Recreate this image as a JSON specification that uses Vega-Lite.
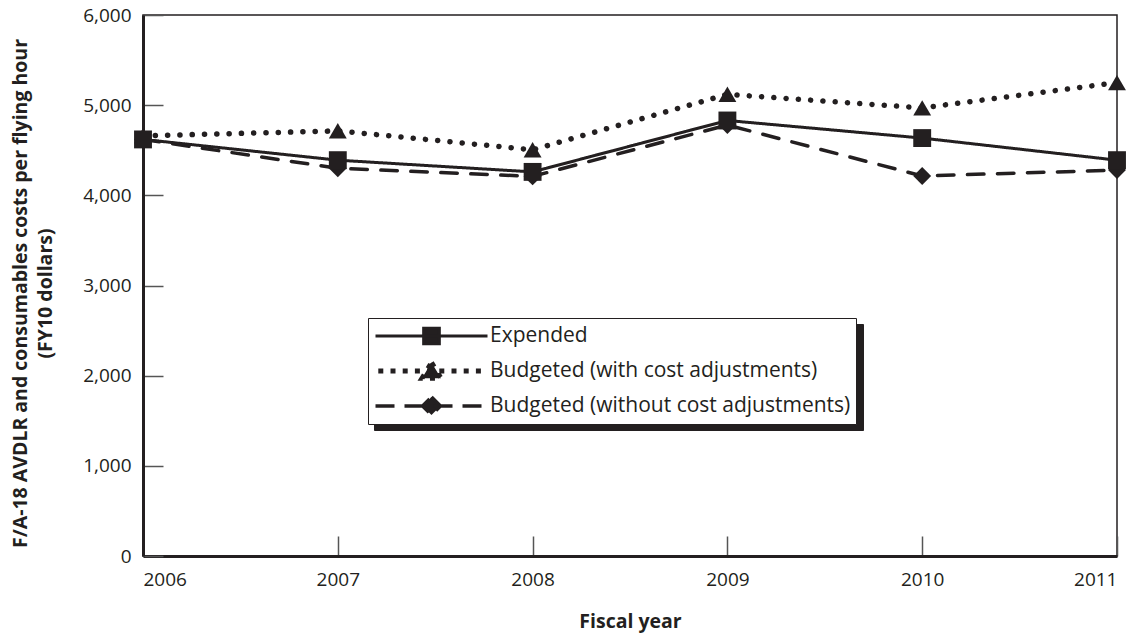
{
  "$schema": "https://vega.github.io/schema/vega-lite/v6.json",
  "width": 974,
  "height": 541,
  "autosize": {"type": "none"},
  "padding": {"left": 143, "top": 15, "right": 29, "bottom": 79},
  "background": "white",
  "config": {
    "font": "Open Sans",
    "view": {"stroke": "#231f20", "strokeWidth": 1.5},
    "axis": {
      "grid": false,
      "domainColor": "#231f20",
      "domainWidth": 3,
      "tickColor": "#555555",
      "tickWidth": 1.5,
      "tickSize": -20,
      "labelFont": "Open Sans",
      "labelFontSize": 19,
      "labelColor": "#231f20",
      "titleFont": "Open Sans",
      "titleFontWeight": "bold",
      "titleColor": "#231f20"
    }
  },
  "data": {
    "values": [
      {"year": 2006, "series": "Budgeted (without cost adjustments)", "cost": 4620},
      {"year": 2007, "series": "Budgeted (without cost adjustments)", "cost": 4300},
      {"year": 2008, "series": "Budgeted (without cost adjustments)", "cost": 4210},
      {"year": 2009, "series": "Budgeted (without cost adjustments)", "cost": 4780},
      {"year": 2010, "series": "Budgeted (without cost adjustments)", "cost": 4215},
      {"year": 2011, "series": "Budgeted (without cost adjustments)", "cost": 4280},
      {"year": 2006, "series": "Budgeted (with cost adjustments)", "cost": 4660},
      {"year": 2007, "series": "Budgeted (with cost adjustments)", "cost": 4715},
      {"year": 2008, "series": "Budgeted (with cost adjustments)", "cost": 4505},
      {"year": 2009, "series": "Budgeted (with cost adjustments)", "cost": 5120},
      {"year": 2010, "series": "Budgeted (with cost adjustments)", "cost": 4970},
      {"year": 2011, "series": "Budgeted (with cost adjustments)", "cost": 5250},
      {"year": 2006, "series": "Expended", "cost": 4620},
      {"year": 2007, "series": "Expended", "cost": 4390},
      {"year": 2008, "series": "Expended", "cost": 4260},
      {"year": 2009, "series": "Expended", "cost": 4830},
      {"year": 2010, "series": "Expended", "cost": 4635},
      {"year": 2011, "series": "Expended", "cost": 4390}
    ]
  },
  "encoding": {
    "x": {
      "field": "year",
      "type": "quantitative",
      "scale": {"domain": [2006, 2011], "nice": false, "zero": false},
      "axis": {
        "values": [2006, 2007, 2008, 2009, 2010, 2011],
        "format": "d",
        "title": "Fiscal year",
        "labelPadding": 34,
        "titleFontSize": 19.5,
        "titleX": 487,
        "titleY": 65,
        "titleBaseline": "middle"
      }
    },
    "y": {
      "field": "cost",
      "type": "quantitative",
      "scale": {"domain": [0, 6000], "nice": false},
      "axis": {
        "values": [0, 1000, 2000, 3000, 4000, 5000, 6000],
        "format": ",.0f",
        "title": ["F/A-18 AVDLR and consumables costs per flying hour", "(FY10 dollars)"],
        "labelPadding": 32,
        "titleFontSize": 19.5,
        "titleLineHeight": 25,
        "titleX": -123,
        "titleY": 278,
        "titleBaseline": "middle",
        "titleAlign": "center"
      }
    }
  },
  "layer": [
    {
      "mark": {"type": "line", "strokeCap": "round", "color": "#231f20"},
      "encoding": {
        "strokeDash": {
          "field": "series",
          "type": "nominal",
          "scale": {
            "domain": ["Expended", "Budgeted (with cost adjustments)", "Budgeted (without cost adjustments)"],
            "range": [[1, 0], [0.1, 12.2], [16.5, 13.5]]
          },
          "legend": null
        },
        "strokeWidth": {
          "field": "series",
          "type": "nominal",
          "scale": {
            "type": "ordinal",
            "domain": ["Expended", "Budgeted (with cost adjustments)", "Budgeted (without cost adjustments)"],
            "range": [3, 5.5, 3.5]
          },
          "legend": null
        }
      }
    },
    {
      "mark": {"type": "point", "filled": true, "opacity": 1, "color": "#231f20", "size": 320},
      "encoding": {
        "shape": {
          "field": "series",
          "type": "nominal",
          "sort": ["Expended", "Budgeted (with cost adjustments)", "Budgeted (without cost adjustments)"],
          "scale": {"range": ["square", "triangle-up", "diamond"]},
          "legend": {
            "orient": "none",
            "legendX": 231,
            "legendY": 309,
            "zindex": 0,
            "title": null,
            "fillColor": "#231f20",
            "strokeColor": "#231f20",
            "padding": 5,
            "clipHeight": 26,
            "rowPadding": 9,
            "symbolSize": 12544,
            "symbolStrokeWidth": 5.5,
            "symbolOpacity": 0,
            "labelOpacity": 0,
            "labelFont": "Open Sans",
            "labelFontSize": 21,
            "labelOffset": 0,
            "labelLimit": 0
          }
        }
      }
    },
    {
      "mark": {"type": "point", "filled": true, "opacity": 0, "size": 10},
      "encoding": {
        "shape": {
          "field": "series",
          "type": "nominal",
          "scale": {
            "domain": ["Expended", "Budgeted (with cost adjustments)", "Budgeted (without cost adjustments)"],
            "range": ["M-1,0H1M-0.14,-0.14H0.14V0.14H-0.14Z", "M-0.95,0H0.95M0,-0.15L0.17,0.13H-0.17Z", "M-1,0H1M0,-0.16L0.16,0L0,0.16L-0.16,0Z"]
          },
          "legend": {
            "orient": "none",
            "legendX": 225,
            "legendY": 303,
            "zindex": 1,
            "title": null,
            "fillColor": "white",
            "strokeColor": "#231f20",
            "padding": 5,
            "clipHeight": 26,
            "rowPadding": 9,
            "symbolSize": 12544,
            "symbolOpacity": 1,
            "labelFont": "Open Sans",
            "labelFontSize": 21,
            "labelColor": "#231f20",
            "labelOffset": 0,
            "labelLimit": 0
          }
        },
        "fill": {
          "field": "series",
          "type": "nominal",
          "scale": {
            "domain": ["Expended", "Budgeted (with cost adjustments)", "Budgeted (without cost adjustments)"],
            "range": ["#231f20", "#231f20", "#231f20"]
          }
        },
        "stroke": {
          "field": "series",
          "type": "nominal",
          "scale": {
            "domain": ["Expended", "Budgeted (with cost adjustments)", "Budgeted (without cost adjustments)"],
            "range": ["#231f20", "#231f20", "#231f20"]
          }
        },
        "strokeDash": {
          "field": "series",
          "type": "nominal",
          "scale": {
            "domain": ["Expended", "Budgeted (with cost adjustments)", "Budgeted (without cost adjustments)"],
            "range": [[1, 0], [5, 7.2], [19, 10]]
          }
        },
        "strokeWidth": {
          "field": "series",
          "type": "nominal",
          "scale": {
            "type": "ordinal",
            "domain": ["Expended", "Budgeted (with cost adjustments)", "Budgeted (without cost adjustments)"],
            "range": [3, 5, 3.5]
          }
        }
      }
    }
  ],
  "resolve": {
    "scale": {"shape": "independent", "strokeDash": "independent", "strokeWidth": "independent", "fill": "independent", "stroke": "independent"},
    "legend": {"shape": "independent", "strokeDash": "independent", "strokeWidth": "independent", "fill": "independent", "stroke": "independent"}
  }
}
